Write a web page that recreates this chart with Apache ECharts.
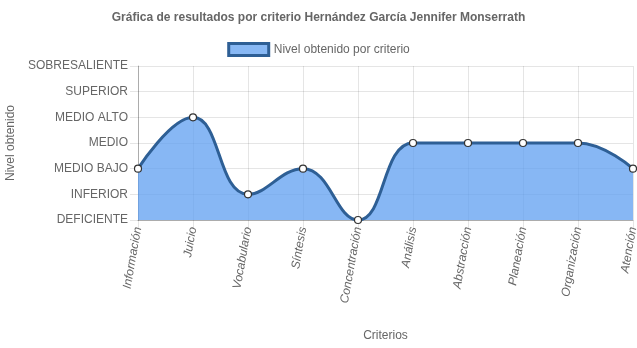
<!DOCTYPE html>
<html><head><meta charset="utf-8">
<script src="https://cdn.jsdelivr.net/npm/echarts@6/dist/echarts.min.js"></script>
<style>html,body{margin:0;padding:0;background:#fff}#c{width:637px;height:348px}</style>
</head><body><div id="c"></div>
<script>
const categories = ['Información','Juicio','Vocabulario','Síntesis','Concentración','Análisis','Abstracción','Planeación','Organización','Atención'];
const levelLabels = ['DEFICIENTE','INFERIOR','MEDIO BAJO','MEDIO','MEDIO ALTO','SUPERIOR','SOBRESALIENTE'];
const values = [2,4,1,2,0,3,3,3,3,2];
const seriesName = 'Nivel obtenido por criterio';
const titleText = 'Gráfica de resultados por criterio Hernández García Jennifer Monserrath';

const font = 'Arial, "Liberation Sans", Helvetica, sans-serif';
const chart = echarts.init(document.getElementById('c'), null, {renderer:'canvas'});
chart.setOption({
  animation:false,
  textStyle:{fontFamily:font},
  title:{text:titleText,left:'center',top:7,textStyle:{fontSize:12,fontWeight:'bold',color:'#666',fontFamily:font}},
  legend:{top:37,left:'center',icon:'rect',itemWidth:40,itemHeight:12,itemGap:6,
    textStyle:{fontSize:12,color:'#666',fontFamily:font},
    itemStyle:{borderWidth:3,borderColor:'#2e5f95',color:'#88b8f4'}},
  grid:{left:138,right:4,top:66,bottom:128,containLabel:false,outerBoundsMode:'none'},
  xAxis:{type:'category',data:categories,boundaryGap:false,
    name:'Criterios',nameLocation:'middle',nameGap:110,
    nameTextStyle:{fontSize:12,color:'#666'},
    axisLine:{show:true,lineStyle:{color:'rgba(0,0,0,0.25)'}},
    axisTick:{show:true,length:8,lineStyle:{color:'rgba(0,0,0,0.1)'}},
    axisLabel:{rotate:80,fontSize:12,color:'#666',fontStyle:'italic',margin:7},
    splitLine:{show:true,lineStyle:{color:'rgba(0,0,0,0.1)'}}},
  yAxis:{type:'value',min:0,max:6,interval:1,
    name:'Nivel obtenido',nameLocation:'middle',nameGap:120,nameRotate:90,
    nameTextStyle:{fontSize:12,color:'#666'},
    axisLine:{show:true,lineStyle:{color:'rgba(0,0,0,0.25)'}},
    axisTick:{show:true,length:8,lineStyle:{color:'rgba(0,0,0,0.1)'}},
    axisLabel:{fontSize:12,color:'#666',margin:10,formatter:v=>levelLabels[v]||''},
    splitLine:{show:true,lineStyle:{color:'rgba(0,0,0,0.1)'}}},
  series:[{name:seriesName,type:'line',data:values,smooth:0.45,
    symbol:'circle',symbolSize:7,
    lineStyle:{color:'#2e5f95',width:3},
    itemStyle:{color:'#fff',borderColor:'#333',borderWidth:1.2},
    areaStyle:{color:'rgba(95,159,240,0.75)',opacity:1}}]
});
</script></body></html>
